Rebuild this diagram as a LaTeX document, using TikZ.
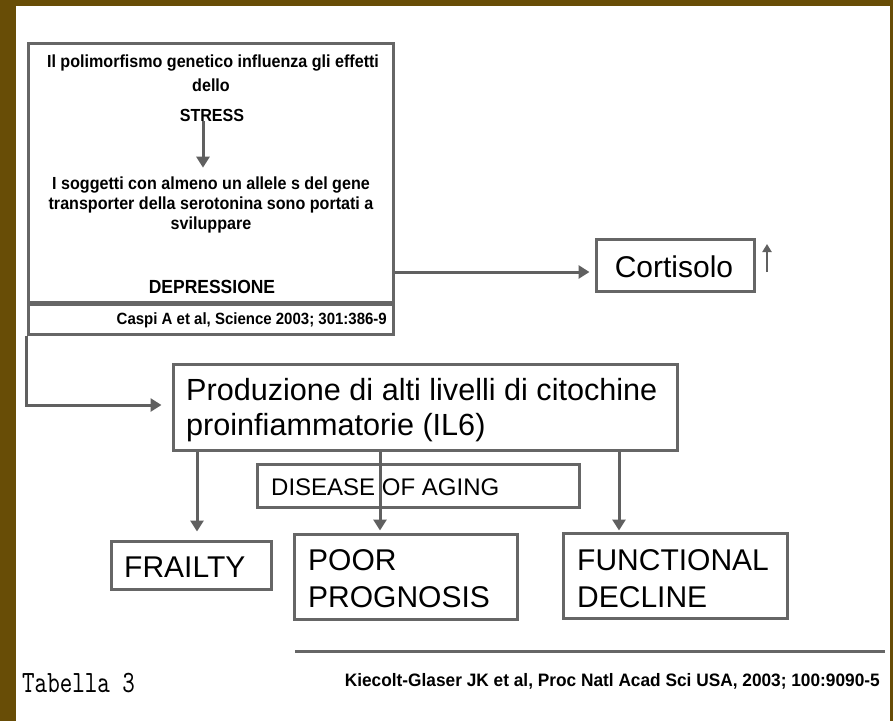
\documentclass[tikz,border=0pt]{standalone}
\usepackage{fontspec}
\setmainfont{Liberation Sans}
\newfontfamily\bfn[FakeStretch=0.92]{Liberation Sans Bold}
\newfontfamily\bfw[FakeStretch=0.96]{Liberation Sans Bold}
\newfontfamily\tabfont[FakeStretch=0.77]{lmmono10-regular.otf}
\usetikzlibrary{arrows.meta,calc}
\definecolor{framebrown}{RGB}{104,77,6}
\definecolor{boxgray}{RGB}{102,102,102}
\definecolor{arrgray}{RGB}{96,96,96}
\begin{document}
\begin{tikzpicture}[x=1pt,y=-1pt,
  box/.style={draw=boxgray,line width=3pt,rectangle,inner sep=0pt},
  lbl/.style={inner sep=0pt,font=\fontsize{30}{36}\selectfont,align=left,anchor=west},
  btxt/.style={inner sep=0pt,font=\bfn\fontsize{17.5}{20}\selectfont,align=center},
  arr/.style={draw=arrgray,line width=3pt,-{Triangle[length=11pt,width=13pt]}},
  ]
\fill[white] (0,0) rectangle (893,721);
\useasboundingbox (0,0) rectangle (893,721);
\fill[framebrown] (0,0) rectangle (16,721);
\fill[framebrown] (0,0) rectangle (893,6);
\fill[framebrown] (890,0) rectangle (893,721);

% top box
\node[box,minimum width=365pt,minimum height=259pt] (topbox) at (210.5,172.5) {};
\node[box,minimum width=365pt,minimum height=30pt] (caspibox) at (210.5,319) {};
\node[btxt] (l1) at (213,63) {Il polimorfismo genetico influenza gli effetti};
\node[btxt] (l2) at (211,85) {dello};
\node[btxt] (stress) at (212,115) {STRESS};
\node[btxt] (sogg) at (211,205) {I soggetti con almeno un  allele s del gene\\transporter della serotonina sono portati a\\sviluppare};
\node[btxt,font=\bfn\fontsize{19}{20}\selectfont] (depr) at (212,287) {DEPRESSIONE};
\node[inner sep=0pt,font=\bfn\fontsize{16.3}{18}\selectfont,anchor=east] (caspi) at (387,320) {Caspi A et al, Science 2003; 301:386-9};
\coordinate (sa) at ($(stress.south)+(-9,0)$);
\draw[arr,shorten >=9pt] (sa) -- (sa |- sogg.north);

% cortisolo
\node[box,minimum width=158pt,minimum height=52pt] (cort) at (675,265) {};
\node[lbl,anchor=center] (corttxt) at (674,267) {Cortisolo};
\draw[arr,shorten >=5pt] (topbox.east |- 0,272) -- ([yshift=-7pt]cort.west);
\coordinate (u1) at (767,272);
\coordinate (u2) at (767,244);
\draw[draw=arrgray,line width=2pt,-{Triangle[length=8pt,width=9pt]}] (u1) -- (u2);

% produzione
\node[box,minimum width=504pt,minimum height=86pt] (prod) at (425,407) {};
\node[lbl,font=\fontsize{30.6}{35}\selectfont] (prodtxt) at (186,410.5) {Produzione di alti livelli di citochine\\proinfiammatorie (IL6)};
\draw[arr,shorten >=10pt] (caspibox.south west) |- ([yshift=2pt]prod.west);

% disease
\node[box,minimum width=322pt,minimum height=43pt] (dis) at (418,485.5) {};
\node[lbl,font=\fontsize{24}{28}\selectfont] (distxt) at (271,487) {DISEASE OF AGING};

% outcomes
\node[box,minimum width=160pt,minimum height=48pt] (frail) at (191,565) {};
\node[lbl] (frailtxt) at (124,567) {FRAILTY};
\node[box,minimum width=223pt,minimum height=85pt] (poor) at (405.5,576.5) {};
\node[lbl,font=\fontsize{30}{37}\selectfont] (poortxt) at (308,578.5) {POOR\\PROGNOSIS};
\node[box,minimum width=224pt,minimum height=85pt] (func) at (675,575.5) {};
\node[lbl,font=\fontsize{30}{37}\selectfont] (functxt) at (577,578.5) {FUNCTIONAL\\DECLINE};

\coordinate (fx) at (197,0);
\coordinate (px) at (380,0);
\coordinate (qx) at (619,0);
\draw[arr,shorten >=8pt] (prod.south -| fx) -- (frail.north -| fx);
\draw[arr,shorten >=2pt] (prod.south -| px) -- (poor.north -| px);
\draw[arr,shorten >=1pt] (prod.south -| qx) -- (func.north -| qx);

% footer
\coordinate (r1) at (295,651);
\coordinate (r2) at (885,651);
\draw[draw=boxgray,line width=3pt] (r1) -- (r2);
\node[inner sep=0pt,font=\tabfont\fontsize{31}{33}\selectfont,anchor=base west] (tab) at (22,692) {Tabella 3};
\node[inner sep=0pt,font=\bfw\fontsize{18}{20}\selectfont,anchor=base east] (kg) at (880,686) {Kiecolt-Glaser JK et al, Proc Natl Acad Sci USA, 2003; 100:9090-5};
\end{tikzpicture}
\end{document}
